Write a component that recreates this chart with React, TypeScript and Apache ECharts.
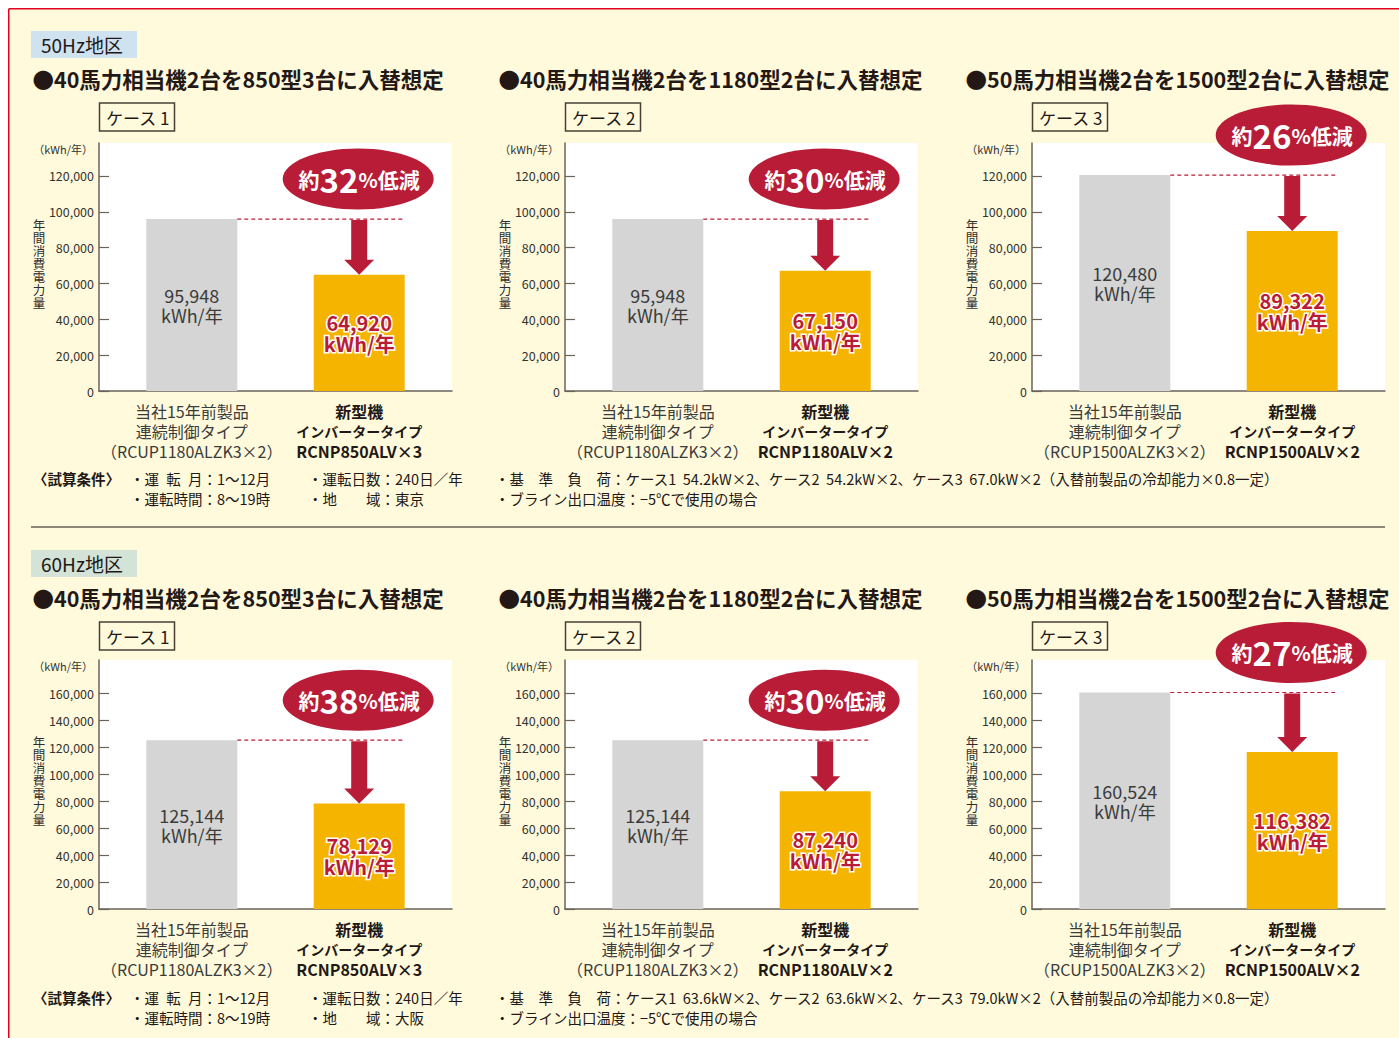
import React, { useEffect, useRef } from 'react';
import * as echarts from 'echarts';

// ---------- data ----------
const regionLabels = ['50Hz地区', '60Hz地区'];
const caseTitles = [
  '●40馬力相当機2台を850型3台に入替想定',
  '●40馬力相当機2台を1180型2台に入替想定',
  '●50馬力相当機2台を1500型2台に入替想定',
];
const caseLabels = ['ケース 1', 'ケース 2', 'ケース 3'];
const oldLabelLines = ['当社15年前製品', '連続制御タイプ'];
const newLabelLines = ['新型機', 'インバータータイプ'];
const oldModels = ['（RCUP1180ALZK3×2）', '（RCUP1180ALZK3×2）', '（RCUP1500ALZK3×2）'];
const newModels = ['RCNP850ALV×3', 'RCNP1180ALV×2', 'RCNP1500ALV×2'];

const oldValues50Hz = [95948, 95948, 120480];
const newValues50Hz = [64920, 67150, 89322];
const reductionPct50Hz = [32, 30, 26];
const oldValues60Hz = [125144, 125144, 160524];
const newValues60Hz = [78129, 87240, 116382];
const reductionPct60Hz = [38, 30, 27];

const yTicks50Hz = [0, 20000, 40000, 60000, 80000, 100000, 120000];
const yTicks60Hz = [0, 20000, 40000, 60000, 80000, 100000, 120000, 140000, 160000];
const yAxisMax = [138400, 184600];
const yUnitLabel = '（kWh/年）';
const yAxisTitle = '年間消費電力量';

const conditionHead = '〈試算条件〉';
const conditionsA = ['・運\u2002転\u2002月：1〜12月', '・運転時間：8〜19時'];
const conditionsB50Hz = ['・運転日数：240日／年', '・地　　域：東京'];
const conditionsB60Hz = ['・運転日数：240日／年', '・地　　域：大阪'];
const conditionsC50Hz = [
  '・基　準　負　荷：ケース1  54.2kW×2、ケース2  54.2kW×2、ケース3  67.0kW×2（入替前製品の冷却能力×0.8一定）',
  '・ブライン出口温度：−5℃で使用の場合',
];
const conditionsC60Hz = [
  '・基　準　負　荷：ケース1  63.6kW×2、ケース2  63.6kW×2、ケース3  79.0kW×2（入替前製品の冷却能力×0.8一定）',
  '・ブライン出口温度：−5℃で使用の場合',
];

// ---------- style / layout ----------
const FONT = '"Noto Sans CJK JP", "Noto Sans", sans-serif';
const INK = '#231815';
const CRIMSON = '#b81c36';
const GRAY_BAR = '#d4d5d4';
const ORANGE_BAR = '#f5b400';
const AXIS = '#6b6359';
const CREAM = '#fffadc';
const BORDER = '#e60020';
const DIVIDER = '#8d8677';
const regionColors = ['#cfe2f0', '#d3e3d7'];

const COL_X = [0, 466, 933];
const ROW_Y = [0, 519];
const GRID_LEFT = 99;
const GRID_W = 353;
const GRID_TOP = [143, 660];
const GRID_BOTTOM = [391, 909];
const BAR_W = 91;
const BAR_GAP = -1.1;
const BAR_SHIFT = (BAR_W * (-BAR_GAP - 1)) / 2;

const fmt = (v: number) => Number(v).toLocaleString('en-US');
const isKana = (s: string) => /^[\u30A0-\u30FF]+$/.test(s);

function buildOption() {
  const grids: any[] = [];
  const xAxes: any[] = [];
  const yAxes: any[] = [];
  const series: any[] = [];
  const g: any[] = [];

  const rows = [
    { old: oldValues50Hz, neu: newValues50Hz, pct: reductionPct50Hz, ticks: yTicks50Hz, condB: conditionsB50Hz, condC: conditionsC50Hz },
    { old: oldValues60Hz, neu: newValues60Hz, pct: reductionPct60Hz, ticks: yTicks60Hz, condB: conditionsB60Hz, condC: conditionsC60Hz },
  ];

  // page frame
  g.push({ type: 'rect', shape: { x: 0, y: 0, width: 1399, height: 8 }, style: { fill: '#fff' } });
  g.push({ type: 'rect', shape: { x: 0, y: 0, width: 8, height: 1038 }, style: { fill: '#fff' } });
  g.push({ type: 'line', shape: { x1: 8.75, y1: 8.75, x2: 1399, y2: 8.75 }, style: { stroke: BORDER, lineWidth: 1.5 } });
  g.push({ type: 'line', shape: { x1: 8.75, y1: 8.75, x2: 8.75, y2: 1038 }, style: { stroke: BORDER, lineWidth: 1.5 } });
  g.push({ type: 'line', shape: { x1: 31, y1: 527, x2: 1385, y2: 527 }, style: { stroke: DIVIDER, lineWidth: 2 } });

  const txt = (x: number, y: number, text: string, size: number, extra: any = {}) => ({
    type: 'text',
    x,
    y,
    style: { text, fontSize: size, fontFamily: FONT, fill: INK, verticalAlign: 'middle', align: 'left', ...extra },
  });

  rows.forEach((row, r) => {
    const oy = ROW_Y[r];
    // region label
    g.push({ type: 'rect', shape: { x: 31, y: 31 + oy, width: 106, height: 27 }, style: { fill: regionColors[r] } });
    g.push(txt(41, 44.5 + oy, regionLabels[r], 19));
    // footer conditions
    g.push(txt(33, 478 + oy, conditionHead, 14.5, { fontWeight: 'bold' }));
    conditionsA.forEach((t, i) => g.push(txt(130, 478 + oy + i * 20, t, 14.5)));
    row.condB.forEach((t, i) => g.push(txt(308, 478 + oy + i * 20, t, 14.5)));
    row.condC.forEach((t, i) => g.push(txt(495, 478 + oy + i * 20, t, 14.5)));

    COL_X.forEach((ox, c) => {
      const k = r * 3 + c;
      const top = GRID_TOP[r];
      const bottom = GRID_BOTTOM[r];
      // titles & case box
      g.push(txt(32.5 + ox, 78 + oy, caseTitles[c], 21.5, { fontWeight: 'bold' }));
      g.push({
        type: 'rect',
        shape: { x: 99.5 + ox, y: 103 + oy, width: 75, height: 28 },
        style: { fill: CREAM, stroke: '#4a3f36', lineWidth: 1.5 },
      });
      g.push(txt(106 + ox, 117 + oy, caseLabels[c], 17));
      // unit label and vertical axis title
      g.push(txt(93 + ox, top + 6, yUnitLabel, 11, { align: 'right', fill: '#333' }));
      const chars = yAxisTitle.split('');
      const midY = (top + bottom) / 2 - 4;
      chars.forEach((ch, i) => {
        g.push(
          txt(39 + ox, midY + (i - (chars.length - 1) / 2) * 13, ch, 12.5, {
            align: 'center',
            fill: '#2e2e2e',
          })
        );
      });

      grids.push({
        left: GRID_LEFT + ox,
        top,
        width: GRID_W,
        height: bottom - top,
        show: true,
        backgroundColor: '#fff',
        borderWidth: 0,
      });

      xAxes.push({
        gridIndex: k,
        type: 'category',
        data: [oldLabelLines.concat(oldModels[c]).join('\n'), newLabelLines.concat(newModels[c]).join('\n')],
        axisLine: { show: true, lineStyle: { color: AXIS, width: 1.5 } },
        axisTick: { show: false },
        axisLabel: {
          interval: 0,
          margin: 10,
          formatter: (v: string, i: number) =>
            v
              .split('\n')
              .map((l) => `{${i === 0 ? 'o' : isKana(l) ? 'k' : 'n'}|${l}}`)
              .join('\n'),
          rich: {
            o: { fontSize: 16, lineHeight: 20, color: '#3b3b3b', align: 'center', padding: [0, 0, 0, 9], fontFamily: FONT },
            n: { fontSize: 16, lineHeight: 20, color: INK, fontWeight: 'bold', align: 'center', padding: [0, 9, 0, 0], fontFamily: FONT },
            k: { fontSize: 14, lineHeight: 20, color: INK, fontWeight: 'bold', align: 'center', padding: [0, 9, 0, 0], fontFamily: FONT },
          },
        },
      });

      yAxes.push({
        gridIndex: k,
        type: 'value',
        min: 0,
        max: yAxisMax[r],
        axisLine: { show: true, lineStyle: { color: AXIS, width: 1.5 } },
        axisTick: { show: true, inside: true, length: 10, customValues: row.ticks, lineStyle: { color: AXIS, width: 1.2 } },
        axisLabel: { customValues: row.ticks, formatter: (v: number) => fmt(v), fontSize: 12.5, color: '#333', margin: 5, fontFamily: FONT },
        splitLine: { show: false },
      });

      series.push({
        type: 'bar',
        xAxisIndex: k,
        yAxisIndex: k,
        data: [row.old[c], '-'],
        barWidth: BAR_W,
        barGap: `${BAR_GAP * 100}%`,
        itemStyle: { color: GRAY_BAR },
        label: {
          show: true,
          position: 'inside',
          formatter: (p: any) => `${fmt(p.value)}\nkWh/年`,
          fontSize: 18,
          lineHeight: 20,
          color: '#3b3b3b',
          fontFamily: FONT,
        },
      });
      series.push({
        type: 'bar',
        xAxisIndex: k,
        yAxisIndex: k,
        data: ['-', row.neu[c]],
        barWidth: BAR_W,
        barGap: `${BAR_GAP * 100}%`,
        itemStyle: { color: ORANGE_BAR },
        label: {
          show: true,
          position: 'inside',
          formatter: (p: any) => `${fmt(p.value)}\nkWh/年`,
          fontSize: 20,
          lineHeight: 21,
          fontWeight: 'bold',
          color: CRIMSON,
          textBorderColor: '#fff',
          textBorderWidth: 3,
          fontFamily: FONT,
        },
      });
      series.push({
        type: 'custom',
        xAxisIndex: k,
        yAxisIndex: k,
        z: 5,
        clip: false,
        silent: true,
        encode: { x: 0, y: 1 },
        data: [[0, row.old[c], row.neu[c], row.pct[c]]],
        renderItem: (_p: any, api: any) => {
          const o = api.value(1);
          const n = api.value(2);
          const pct = api.value(3);
          const a = api.coord([0, o]);
          const b = api.coord([1, n]);
          const grayRight = a[0] + BAR_SHIFT + BAR_W / 2;
          const cx = b[0] - BAR_SHIFT;
          const right = cx + BAR_W / 2;
          const yo = a[1];
          const yn = b[1];
          return {
            type: 'group',
            children: [
              {
                type: 'line',
                shape: { x1: grayRight, y1: yo, x2: right, y2: yo },
                style: { stroke: CRIMSON, lineWidth: 1.2, lineDash: [4, 3] },
              },
              {
                type: 'polygon',
                shape: {
                  points: [
                    [cx - 8, yo + 1],
                    [cx + 8, yo + 1],
                    [cx + 8, yn - 15],
                    [cx + 15, yn - 15],
                    [cx, yn],
                    [cx - 15, yn - 15],
                    [cx - 8, yn - 15],
                  ],
                },
                style: { fill: CRIMSON },
              },
              {
                type: 'ellipse',
                shape: { cx: cx - 1, cy: yo - 40, rx: 75.5, ry: 30.5 },
                style: { fill: CRIMSON },
              },
              {
                type: 'text',
                x: cx,
                y: yo - 40,
                style: {
                  text: `{a|約}{b|${pct}}{c|%}{a|低減}`,
                  align: 'center',
                  verticalAlign: 'middle',
                  rich: {
                    a: { fontSize: 21, fontWeight: 'bold', fill: '#fff', fontFamily: FONT },
                    b: { fontSize: 33, fontWeight: 'bold', fill: '#fff', fontFamily: FONT },
                    c: { fontSize: 20, fontWeight: 'bold', fill: '#fff', fontFamily: FONT },
                  },
                },
              },
            ],
          };
        },
      });
    });
  });

  return {
    backgroundColor: CREAM,
    animation: false,
    textStyle: { fontFamily: FONT },
    grid: grids,
    xAxis: xAxes,
    yAxis: yAxes,
    series,
    graphic: { elements: g },
  };
}

export default function App() {
  const ref = useRef<HTMLDivElement>(null);
  useEffect(() => {
    const chart = echarts.init(ref.current as HTMLDivElement, null, { renderer: 'svg' });
    chart.setOption(buildOption() as any);
    return () => chart.dispose();
  }, []);
  return <div ref={ref} style={{ position: 'fixed', left: 0, top: 0, width: 1399, height: 1038 }} />;
}
